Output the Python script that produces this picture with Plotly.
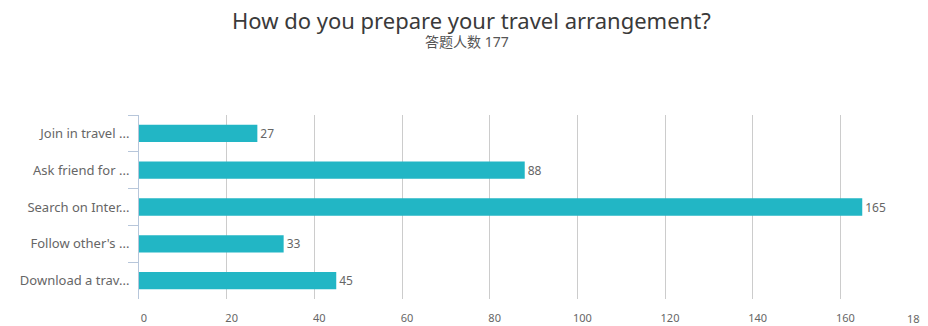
import plotly.graph_objects as go

categories = ["Join in travel ...", "Ask friend for ...", "Search on Inter...", "Follow other's ...", "Download a trav..."]
values = [27, 88, 165, 33, 45]
x_ticks = [0, 20, 40, 60, 80, 100, 120, 140, 160, 180]
title_text = "How do you prepare your travel arrangement?"
subtitle_text = "答题人数 177"

FONT = "Noto Sans, Noto Sans CJK SC, sans-serif"
# page has an 8px body margin; figure occupies page x 8..928, y 8..326
OFF = 8
W, H = 928 - OFF, 326 - OFF
M_L, M_R, M_T, M_B = 139 - OFF, 0, 115 - OFF, 27
PLOT_H = H - M_T - M_B
PLOT_W = W - M_L - M_R

def py(page_y):
    return (H - M_B - (page_y - OFF)) / PLOT_H

def px(page_x):
    return (page_x - OFF - M_L) / PLOT_W

fig = go.Figure(go.Bar(
    x=values, y=categories, orientation="h",
    marker=dict(color="#22b6c5", line=dict(width=0)),
    text=values, textposition="outside", cliponaxis=False,
    textfont=dict(color="#666666", size=12, family=FONT),
    width=0.47,
))

fig.update_layout(
    width=W, height=H,
    margin=dict(l=M_L, r=M_R, t=M_T, b=M_B, autoexpand=False),
    paper_bgcolor="white", plot_bgcolor="white",
    showlegend=False,
    font=dict(family=FONT, color="#666666", size=12),
    annotations=[
        dict(text=title_text, x=px(471), xref="paper", xanchor="center",
             y=py(20), yref="paper", yanchor="middle", showarrow=False,
             font=dict(size=22, color="#3a3a3a", family=FONT)),
        dict(text=subtitle_text, x=px(467), xref="paper", xanchor="center",
             y=py(41), yref="paper", yanchor="middle", showarrow=False,
             font=dict(size=14, color="#555555", family=FONT)),
        # last tick label, pulled inside the page like in the reference
        dict(text=str(x_ticks[-1]), x=px(905), xref="paper", xanchor="left",
             y=py(318), yref="paper", yanchor="middle", showarrow=False,
             font=dict(size=11, color="#666666", family=FONT)),
    ],
)

fig.update_xaxes(
    range=[0, 180], tickvals=x_ticks[:-1], showgrid=True, gridcolor="#cccccc", gridwidth=1,
    zeroline=False, showline=False, ticks="", ticklabelshift=5, ticklabelstandoff=11,
    automargin=False, tickfont=dict(size=11, color="#666666"), fixedrange=True,
)
fig.update_yaxes(
    autorange="reversed", showline=True, linecolor="#b7c6da", linewidth=1,
    ticks="outside", tickson="boundaries", ticklen=10, tickcolor="#b7c6da",
    showgrid=False, tickfont=dict(size=13, color="#666666"), ticklabelstandoff=6,
    automargin=False,
)

fig.write_html("out.html")
